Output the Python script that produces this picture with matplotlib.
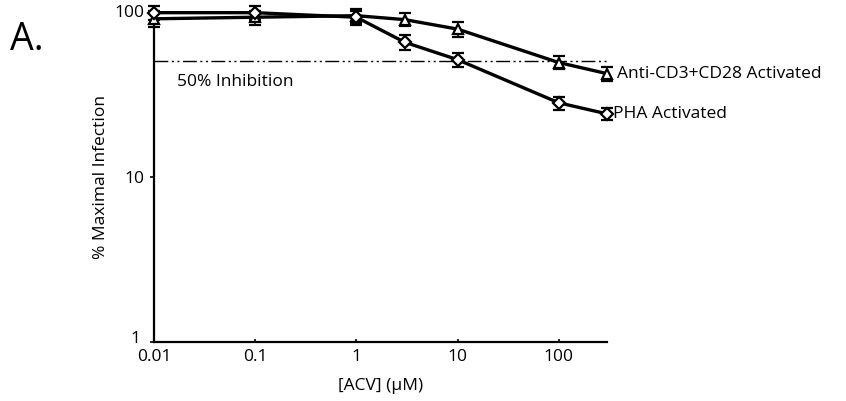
import numpy as np
import matplotlib
matplotlib.use('Agg')
import matplotlib.pyplot as plt
import matplotlib.transforms as mtransforms

plt.rcParams['font.family'] = ['Open Sans', 'DejaVu Sans']

# ACV concentration (uM)
acv = [0.01, 0.1, 1, 3, 10, 100, 300]
# % maximal infection
cd3 = [90, 92, 94, 89, 78, 49, 42]
cd3_err = [10, 9, 9, 8, 8, 4.5, 4]
pha = [98, 98, 92, 65, 51, 28, 24]
pha_err = [10, 9, 9, 6.5, 5, 2.5, 2]

cd3_label = 'Anti-CD3+CD28 Activated'
pha_label = 'PHA Activated'
inhib_level = 50

fs = 12.5

fig = plt.figure(figsize=(8.46, 4.01), dpi=100)
ax = fig.add_axes([0.182, 0.146, 0.5355, 0.826])

ax.set_xscale('log')
ax.set_yscale('log')
ax.set_xlim(0.01, 300)
ax.set_ylim(1, 100)

# 50% line
ax.plot([acv[0], acv[-1]], [inhib_level, inhib_level], color='black', lw=1.0,
        dashes=[10, 2.5, 1.5, 2.5, 1.5, 2.5], zorder=1)
ax.text(0.0168, 37.5, '50% Inhibition', fontsize=fs, va='center', ha='left')

for y, e, m in [(cd3, cd3_err, '^'), (pha, pha_err, 'D')]:
   ax.errorbar(acv, y, yerr=e, color='black', lw=2.4, marker=m,
               markersize=7.5 if m == '^' else 6, markerfacecolor='white',
               markeredgecolor='black', markeredgewidth=1.6,
               ecolor='black', elinewidth=1.2, capsize=4, capthick=1.6,
               clip_on=False, zorder=3)

ax.annotate(cd3_label, xy=(acv[-1], cd3[-1]), xytext=(7, 0),
            textcoords='offset points', va='center', ha='left', fontsize=fs,
            annotation_clip=False)
ax.annotate(pha_label, xy=(acv[-1], pha[-1]), xytext=(4, 0),
            textcoords='offset points', va='center', ha='left', fontsize=fs,
            annotation_clip=False)

ax.spines['top'].set_visible(False)
ax.spines['right'].set_visible(False)
ax.spines['left'].set_linewidth(1.6)
ax.spines['bottom'].set_linewidth(1.6)

ax.set_xticks([0.01, 0.1, 1, 10, 100])
ax.set_xticklabels(['0.01', '0.1', '1', '10', '100'])
ax.set_yticks([1, 10, 100])
ax.set_yticklabels(['1', '10', '100'])
ax.minorticks_off()
ax.tick_params(axis='x', direction='in', length=2.5, width=1.2, pad=5, labelsize=fs)
ax.tick_params(axis='y', direction='out', length=3, width=1.2, pad=4, labelsize=fs)

# nudge the "1" label up a little, as in the original
lbl = ax.get_yticklabels()[0]
lbl.set_transform(lbl.get_transform() + mtransforms.ScaledTranslation(-3/72, 4/72, fig.dpi_scale_trans))

ax.set_xlabel('[ACV] (\u03bcM)', fontsize=fs, labelpad=9)
ax.set_ylabel('% Maximal Infection', fontsize=fs, labelpad=4)

fig.text(0.012, 0.9, 'A.', fontsize=27, va='center', ha='left')

plt.savefig('out.png', dpi=100)
